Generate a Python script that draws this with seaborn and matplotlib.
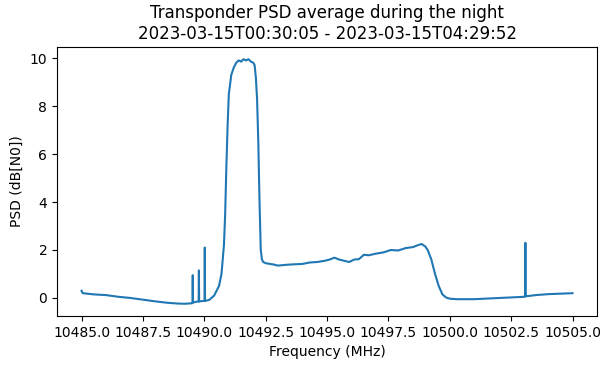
import matplotlib
matplotlib.use("Agg")
import matplotlib.pyplot as plt
import seaborn as sns
import pandas as pd

freq = [10485.0, 10485.02, 10485.05, 10485.5, 10486.0, 10486.5, 10487.0, 10487.5, 10488.0, 10488.5,
        10488.9, 10489.2, 10489.5, 10489.52, 10489.53, 10489.54, 10489.7, 10489.77, 10489.78, 10489.79,
        10489.9, 10490.01, 10490.02, 10490.03, 10490.2, 10490.4, 10490.6, 10490.7, 10490.8, 10490.85,
        10490.9, 10490.95, 10491.0, 10491.1, 10491.2, 10491.3, 10491.4, 10491.5, 10491.6, 10491.7,
        10491.8, 10491.9, 10492.0, 10492.05, 10492.1, 10492.15, 10492.2, 10492.25, 10492.3, 10492.35,
        10492.4, 10492.5, 10492.8, 10493.0, 10493.3, 10493.6, 10494.0, 10494.3, 10494.6, 10494.9,
        10495.1, 10495.3, 10495.5, 10495.7, 10495.9, 10496.1, 10496.3, 10496.5, 10496.7, 10497.0,
        10497.3, 10497.6, 10497.9, 10498.2, 10498.5, 10498.7, 10498.85, 10499.0, 10499.1, 10499.25,
        10499.4, 10499.55, 10499.7, 10499.85, 10500.0, 10500.3, 10501.0, 10502.0, 10503.05, 10503.07,
        10503.08, 10503.09, 10503.5, 10504.0, 10504.5, 10505.0]
psd = [0.3, 0.25, 0.2, 0.15, 0.12, 0.05, 0.0, -0.07, -0.14, -0.2,
       -0.23, -0.24, -0.22, -0.2, 0.95, -0.19, -0.15, -0.15, 1.15, -0.14,
       -0.13, -0.12, 2.1, -0.12, -0.08, 0.1, 0.5, 1.0, 2.2, 3.5,
       5.5, 7.2, 8.5, 9.3, 9.6, 9.8, 9.9, 9.85, 9.95, 9.9,
       9.95, 9.85, 9.8, 9.7, 9.2, 8.3, 6.5, 4.0, 2.0, 1.6,
       1.5, 1.45, 1.4, 1.35, 1.38, 1.4, 1.42, 1.48, 1.5, 1.55,
       1.6, 1.68, 1.6, 1.55, 1.5, 1.6, 1.62, 1.8, 1.78, 1.85,
       1.9, 2.0, 1.98, 2.08, 2.12, 2.2, 2.25, 2.15, 2.0, 1.6,
       1.0, 0.5, 0.15, 0.02, -0.03, -0.05, -0.05, 0.0, 0.05, 0.08,
       2.3, 0.07, 0.12, 0.16, 0.18, 0.2]

df = pd.DataFrame({"Frequency (MHz)": freq, "PSD (dB[N0])": psd})

plt.rcParams["font.family"] = ["DejaVu Sans"]
fig, ax = plt.subplots(figsize=(6.13, 3.7), dpi=100)
sns.lineplot(data=df, x="Frequency (MHz)", y="PSD (dB[N0])", ax=ax, color="#1f77b4", linewidth=1.5)
ax.set_title("Transponder PSD average during the night\n2023-03-15T00:30:05 - 2023-03-15T04:29:52")
ax.set_xticks([10485.0, 10487.5, 10490.0, 10492.5, 10495.0, 10497.5, 10500.0, 10502.5, 10505.0])
ax.set_xticklabels(["10485.0", "10487.5", "10490.0", "10492.5", "10495.0", "10497.5", "10500.0", "10502.5", "10505.0"])
fig.subplots_adjust(left=0.093, right=0.974, top=0.873, bottom=0.146)
fig.savefig("out.png", dpi=100)
